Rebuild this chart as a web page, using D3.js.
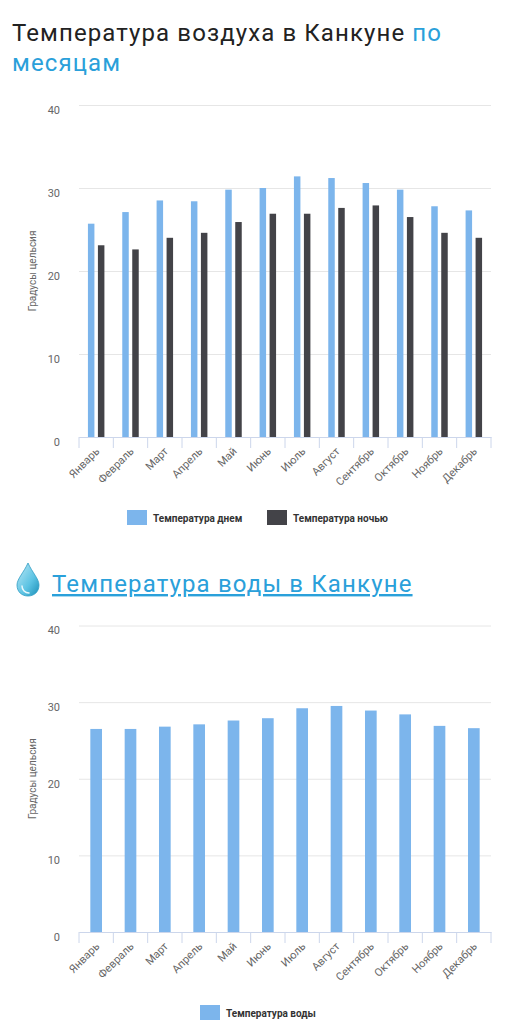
<!DOCTYPE html>
<html>
<head>
<meta charset="utf-8">
<script src="https://cdn.jsdelivr.net/npm/d3@7"></script>
<style>
  body { margin: 0; background: #fff; }
  svg { display: block; font-family: Roboto, "Noto Sans", sans-serif; }
</style>
</head>
<body>
<div id="chart"></div>
<script>
// Data
const months = ["Январь", "Февраль", "Март", "Апрель", "Май", "Июнь",
                "Июль", "Август", "Сентябрь", "Октябрь", "Ноябрь", "Декабрь"];
const dayTemps = [25.7, 27.1, 28.5, 28.4, 29.8, 30.0, 31.4, 31.2, 30.6, 29.8, 27.8, 27.3];
const nightTemps = [23.1, 22.6, 24.0, 24.6, 25.9, 26.9, 26.9, 27.6, 27.9, 26.5, 24.6, 24.0];
const waterTemps = [26.5, 26.5, 26.8, 27.1, 27.6, 27.9, 29.2, 29.5, 28.9, 28.4, 26.9, 26.6];
const yTicks = [0, 10, 20, 30, 40];
const airSeries = ["Температура днем", "Температура ночью"];
const waterSeries = ["Температура воды"];
const yTitle = "Градусы цельсия";

const width = 515;
const height = 1024;
const blue = "#7cb5ec";
const dark = "#434348";
const linkBlue = "#2aa0da";

const svg = d3.select("#chart")
    .append("svg")
    .attr("width", width)
    .attr("height", height);

// Titles
const t1 = svg.append("text")
    .attr("x", 12)
    .attr("y", 41)
    .attr("font-size", 24)
    .attr("letter-spacing", 1.1)
    .attr("fill", "#222");
t1.append("tspan").text("Температура воздуха в Канкуне ");
t1.append("tspan").attr("fill", linkBlue).text("по");
svg.append("text")
    .attr("x", 12)
    .attr("y", 71)
    .attr("font-size", 24)
    .attr("letter-spacing", 1.1)
    .attr("fill", linkBlue)
    .text("месяцам");

// water drop icon
const defs = svg.append("defs");
const grad = defs.append("linearGradient")
    .attr("id", "drop")
    .attr("x1", 0).attr("y1", 0).attr("x2", 1).attr("y2", 1);
grad.append("stop").attr("offset", "0%").attr("stop-color", "#bfe9f6");
grad.append("stop").attr("offset", "60%").attr("stop-color", "#5cc3e3");
grad.append("stop").attr("offset", "100%").attr("stop-color", "#1b8fb8");
svg.append("path")
    .attr("d", "M28,563 C24,572 17,579 17,585 C17,592 22,596 28,596 C34,596 39,592 39,585 C39,579 32,572 28,563 Z")
    .attr("fill", "url(#drop)")
    .attr("stroke", "#2e9dc4")
    .attr("stroke-width", 0.8);
svg.append("path")
    .attr("d", "M22,586 C22,590 25,593 29,593")
    .attr("fill", "none")
    .attr("stroke", "#e8f8fd")
    .attr("stroke-width", 1.5)
    .attr("stroke-linecap", "round");

svg.append("text")
    .attr("x", 52)
    .attr("y", 592)
    .attr("font-size", 24)
    .attr("letter-spacing", 1.15)
    .attr("fill", linkBlue)
    .attr("text-decoration", "underline")
    .text("Температура воды в Канкуне");

// draw one chart frame: grid, axes, y title
function drawFrame(x, y) {
    const [x0, x1] = x.range();
    const [yb, yt] = y.range();

    const grid = svg.append("g")
        .attr("transform", `translate(${x0},0)`)
        .call(d3.axisLeft(y).tickValues(yTicks).tickSize(-(x1 - x0)).tickPadding(19));
    grid.select(".domain").remove();
    grid.selectAll(".tick line").attr("stroke", "#e6e6e6");
    grid.selectAll(".tick text")
        .attr("fill", "#666")
        .attr("font-size", 11)
        .attr("dy", "0.75em")
        .attr("font-family", "Roboto, sans-serif");

    svg.append("text")
        .attr("transform", `translate(36,${(yb + yt) / 2}) rotate(-90)`)
        .attr("text-anchor", "middle")
        .attr("font-size", 10)
        .attr("fill", "#666")
        .text(yTitle);

    // x axis labels
    const xa = svg.append("g")
        .attr("transform", `translate(0,${yb})`)
        .call(d3.axisBottom(x).tickSize(0).tickPadding(0));
    xa.select(".domain").attr("stroke", "#ccd6eb");
    xa.selectAll(".tick text")
        .attr("fill", "#666")
        .attr("font-size", 11)
        .attr("font-family", "Roboto, sans-serif")
        .attr("text-anchor", "end")
        .attr("dy", null)
        .attr("y", 0)
        .attr("transform", "translate(4,15) rotate(-45)");

    // ticks between categories
    const bounds = months.map(m => x(m)).concat([x1]);
    svg.append("g").selectAll("line")
        .data(bounds)
        .join("line")
        .attr("x1", d => d).attr("x2", d => d)
        .attr("y1", yb).attr("y2", yb + 11)
        .attr("stroke", "#ccd6eb");
}

function drawLegend(items, colors, xs, y) {
    items.forEach((name, i) => {
        svg.append("rect")
            .attr("x", xs[i])
            .attr("y", y)
            .attr("width", 20)
            .attr("height", 15)
            .attr("fill", colors[i]);
        svg.append("text")
            .attr("x", xs[i] + 26)
            .attr("y", y + 11.5)
            .attr("font-size", 10)
            .attr("font-weight", "bold")
            .attr("fill", "#333")
            .text(name);
    });
}

// Chart 1: air temperature
const xAir = d3.scaleBand().domain(months).range([79, 491]);
const yAir = d3.scaleLinear().domain([0, 40]).range([437, 105]);
drawFrame(xAir, yAir);

const bw = xAir.bandwidth();
const xSub = d3.scaleBand()
    .domain(airSeries)
    .range([bw * 0.26, bw * 0.74])
    .paddingInner(0.35);

const airRows = months.map((m, i) => ({ month: m, values: [dayTemps[i], nightTemps[i]] }));
svg.append("g")
    .selectAll("g")
    .data(airRows)
    .join("g")
    .attr("transform", d => `translate(${xAir(d.month)},0)`)
    .selectAll("rect")
    .data(d => d.values.map((v, j) => ({ series: airSeries[j], value: v, color: j ? dark : blue })))
    .join("rect")
    .attr("x", d => xSub(d.series))
    .attr("width", xSub.bandwidth())
    .attr("y", d => yAir(d.value))
    .attr("height", d => yAir(0) - yAir(d.value))
    .attr("fill", d => d.color);

drawLegend(airSeries, [blue, dark], [127, 267], 510);

// Chart 2: water temperature
const xWater = d3.scaleBand().domain(months).range([79, 491]);
const yWater = d3.scaleLinear().domain([0, 40]).range([932, 625.5]);
drawFrame(xWater, yWater);

const wb = xWater.bandwidth();
svg.append("g")
    .selectAll("rect")
    .data(months.map((m, i) => ({ month: m, value: waterTemps[i] })))
    .join("rect")
    .attr("x", d => xWater(d.month) + wb * 0.33)
    .attr("width", wb * 0.34)
    .attr("y", d => yWater(d.value))
    .attr("height", d => yWater(0) - yWater(d.value))
    .attr("fill", blue);

drawLegend(waterSeries, [blue], [200], 1005);
</script>
</body>
</html>
